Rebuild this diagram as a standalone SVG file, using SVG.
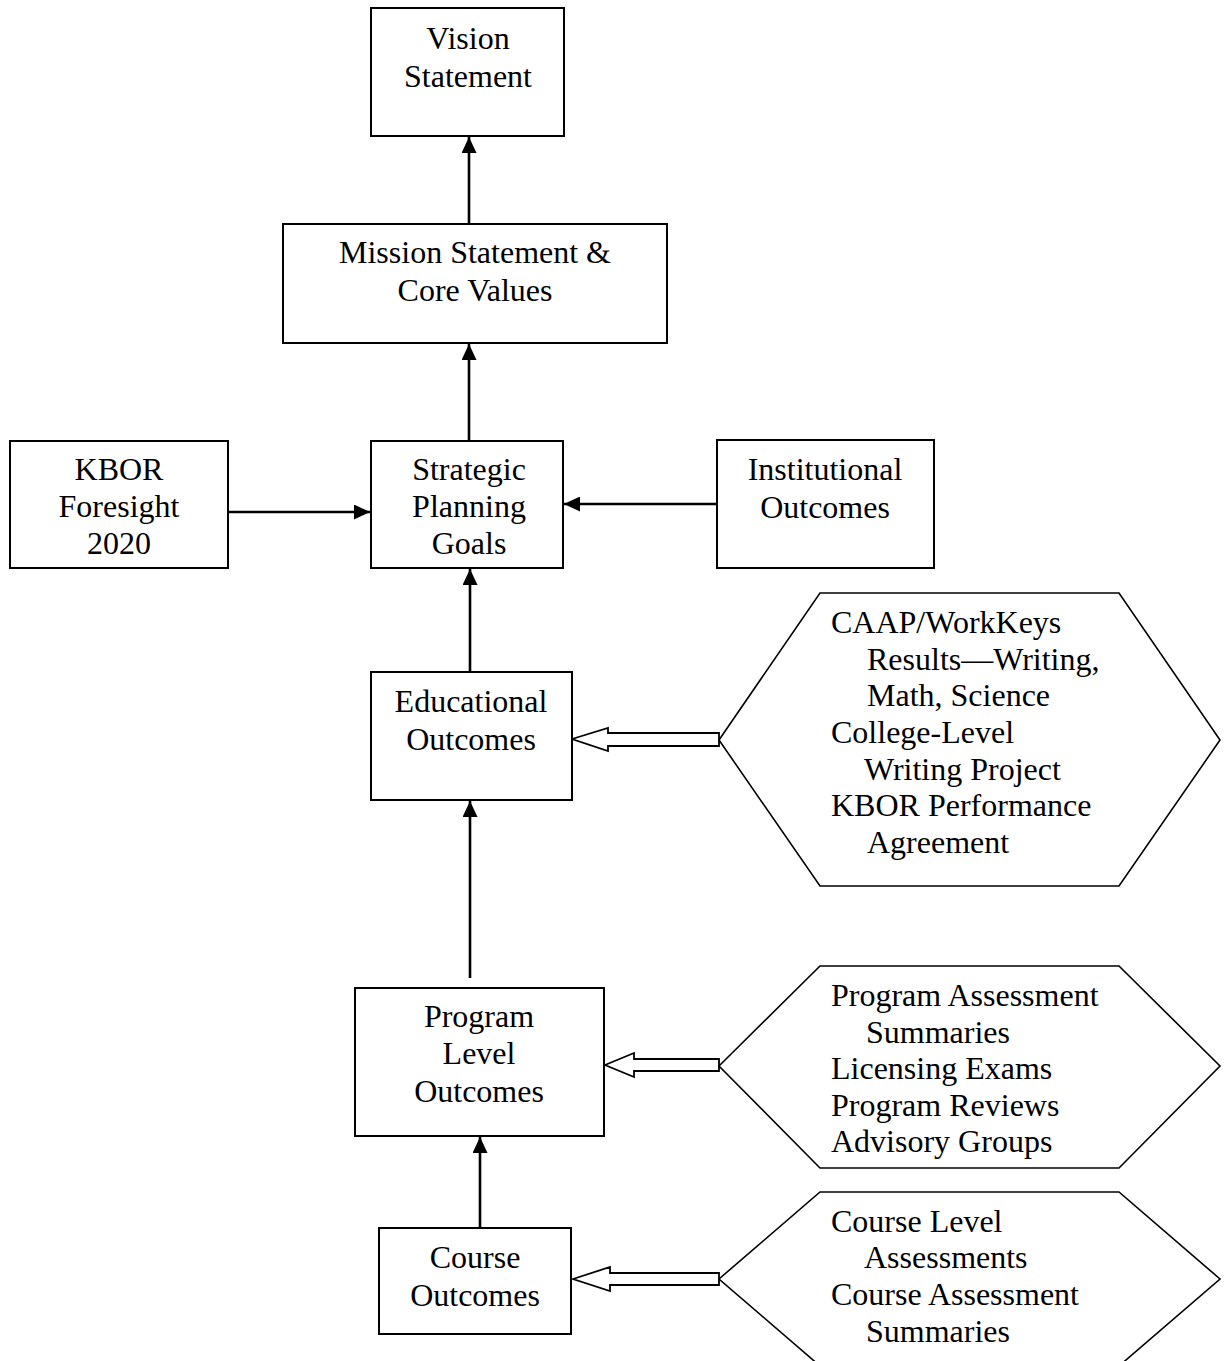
<svg xmlns="http://www.w3.org/2000/svg" width="1225" height="1361" viewBox="0 0 1225 1361">
<style>
.box{fill:#fff;stroke:#000;stroke-width:2}
.hex{fill:#fff;stroke:#000;stroke-width:1.6}
.t{font-family:"Liberation Serif","Times New Roman",serif;font-size:32px;fill:#000}
.c{text-anchor:middle}
.ln{stroke:#000;stroke-width:2.6;fill:none}
.hol{fill:#fff;stroke:#000;stroke-width:1.8}
</style>
<defs>
<marker id="ah" viewBox="0 0 16 15" refX="16" refY="7.5" markerWidth="16" markerHeight="15" markerUnits="userSpaceOnUse" orient="auto">
<path d="M0,0 L16,7.5 L0,15 Z" fill="#000"/>
</marker>
</defs>
<rect width="1225" height="1361" fill="#fff"/>
<g id="connectors">
<line class="ln" x1="469" y1="224" x2="469" y2="137" marker-end="url(#ah)"/>
<line class="ln" x1="469" y1="441" x2="469" y2="344" marker-end="url(#ah)"/>
<line class="ln" x1="228" y1="512" x2="370" y2="512" marker-end="url(#ah)"/>
<line class="ln" x1="717" y1="504" x2="564" y2="504" marker-end="url(#ah)"/>
<line class="ln" x1="470" y1="672" x2="470" y2="569" marker-end="url(#ah)"/>
<line class="ln" x1="470" y1="978" x2="470" y2="801" marker-end="url(#ah)"/>
<line class="ln" x1="480" y1="1228" x2="480" y2="1137" marker-end="url(#ah)"/>
<path class="hol" d="M572,739 L608,728 L608,733 L719,733 L719,746 L608,746 L608,751 Z"/>
<path class="hol" d="M605,1065 L634,1053 L634,1059 L719,1059 L719,1071 L634,1071 L634,1077 Z"/>
<path class="hol" d="M573,1279 L610,1267 L610,1273 L719,1273 L719,1285 L610,1285 L610,1291 Z"/>
</g>
<g id="vision">
<rect class="box" x="371" y="8" width="193" height="128"/>
<text class="t c" x="468" y="49">Vision</text>
<text class="t c" x="468" y="87">Statement</text>
</g>
<g id="mission">
<rect class="box" x="283" y="224" width="384" height="119"/>
<text class="t c" x="475" y="263">Mission Statement &amp;</text>
<text class="t c" x="475" y="301">Core Values</text>
</g>
<g id="kbor">
<rect class="box" x="10" y="441" width="218" height="127"/>
<text class="t c" x="119" y="480">KBOR</text>
<text class="t c" x="119" y="517">Foresight</text>
<text class="t c" x="119" y="554">2020</text>
</g>
<g id="strategic">
<rect class="box" x="371" y="441" width="192" height="127"/>
<text class="t c" x="469" y="480">Strategic</text>
<text class="t c" x="469" y="517">Planning</text>
<text class="t c" x="469" y="554">Goals</text>
</g>
<g id="institutional">
<rect class="box" x="717" y="440" width="217" height="128"/>
<text class="t c" x="825" y="480">Institutional</text>
<text class="t c" x="825" y="518">Outcomes</text>
</g>
<g id="educational">
<rect class="box" x="371" y="672" width="201" height="128"/>
<text class="t c" x="471" y="712">Educational</text>
<text class="t c" x="471" y="750">Outcomes</text>
</g>
<g id="program">
<rect class="box" x="355" y="988" width="249" height="148"/>
<text class="t c" x="479" y="1027">Program</text>
<text class="t c" x="479" y="1064">Level</text>
<text class="t c" x="479" y="1102">Outcomes</text>
</g>
<g id="course">
<rect class="box" x="379" y="1228" width="192" height="106"/>
<text class="t c" x="475" y="1268">Course</text>
<text class="t c" x="475" y="1306">Outcomes</text>
</g>
<g id="hex-educational">
<polygon class="hex" points="719,740 820,593 1119,593 1220,740 1119,886 820,886"/>
<text class="t" x="831" y="633">CAAP/WorkKeys</text>
<text class="t" x="867" y="670">Results—Writing,</text>
<text class="t" x="867" y="706">Math, Science</text>
<text class="t" x="831" y="743">College-Level</text>
<text class="t" x="864" y="780">Writing Project</text>
<text class="t" x="831" y="816">KBOR Performance</text>
<text class="t" x="867" y="853">Agreement</text>
</g>
<g id="hex-program">
<polygon class="hex" points="719,1066 820,966 1119,966 1220,1066 1119,1168 820,1168"/>
<text class="t" x="831" y="1006">Program Assessment</text>
<text class="t" x="866" y="1043">Summaries</text>
<text class="t" x="831" y="1079">Licensing Exams</text>
<text class="t" x="831" y="1116">Program Reviews</text>
<text class="t" x="831" y="1152">Advisory Groups</text>
</g>
<g id="hex-course">
<polygon class="hex" points="719,1279 820,1192 1119,1192 1220,1279 1119,1366 820,1366"/>
<text class="t" x="831" y="1232">Course Level</text>
<text class="t" x="864" y="1268">Assessments</text>
<text class="t" x="831" y="1305">Course Assessment</text>
<text class="t" x="866" y="1342">Summaries</text>
</g>
</svg>
